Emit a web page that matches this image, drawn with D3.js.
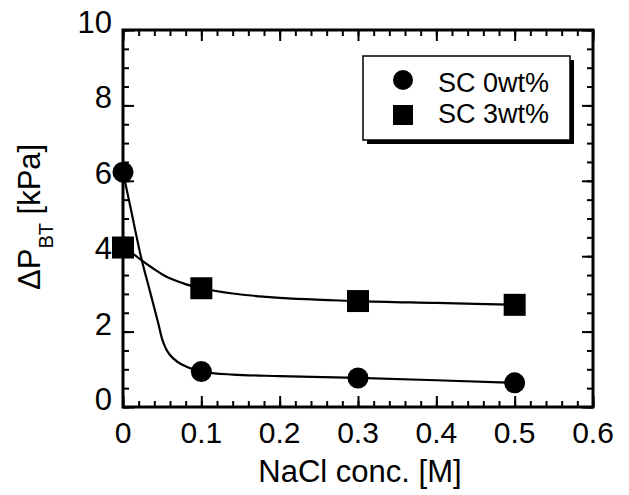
<!DOCTYPE html>
<html>
<head>
<meta charset="utf-8">
<script src="https://cdn.jsdelivr.net/npm/d3@7"></script>
<style>
body { margin: 0; background: #fff; }
text { font-family: "Liberation Sans", Arial, sans-serif; fill: #000; }
</style>
</head>
<body>
<script>
var width = 629;
var height = 495;

// measured points
var conc = [0, 0.1, 0.3, 0.5];
var sc0 = [6.23, 0.94, 0.77, 0.64];
var sc3 = [4.23, 3.15, 2.81, 2.71];

// fitted curves
var fit0x = [0, 0.01, 0.023, 0.034, 0.045, 0.05, 0.055, 0.06, 0.07, 0.081, 0.1, 0.14, 0.2, 0.3, 0.4, 0.5];
var fit0y = [6.23, 5.25, 3.98, 3.10, 2.22, 1.80, 1.54, 1.38, 1.19, 1.07, 0.94, 0.86, 0.82, 0.77, 0.71, 0.64];
var fit3x = [0, 0.015, 0.023, 0.038, 0.055, 0.077, 0.1, 0.14, 0.183, 0.3, 0.4, 0.5];
var fit3y = [4.23, 4.03, 3.90, 3.68, 3.46, 3.28, 3.15, 3.01, 2.92, 2.81, 2.76, 2.71];

var xTicks = [0, 0.1, 0.2, 0.3, 0.4, 0.5, 0.6];
var yTicks = [0, 2, 4, 6, 8, 10];
var xMinorStep = 0.02;
var yMinorStep = 0.5;
var seriesNames = ["SC 0wt%", "SC 3wt%"];

var svg = d3.select("body")
            .append("svg")
            .attr("width", width)
            .attr("height", height);

var x = d3.scaleLinear().domain([0, 0.6]).range([123, 593]);
var y = d3.scaleLinear().domain([0, 10]).range([407, 30]);

var xMinor = d3.range(0, Math.round(0.6 / xMinorStep) + 1).map(function(i){ return i * xMinorStep; });
var yMinor = d3.range(0, Math.round(10 / yMinorStep) + 1).map(function(i){ return i * yMinorStep; });

function tickGroup(axis, tx, ty, vals, size) {
    var g = svg.append("g")
        .attr("transform", "translate(" + tx + "," + ty + ")")
        .call(axis.tickValues(vals).tickSize(-size).tickFormat(""));
    g.select(".domain").remove();
    g.selectAll("line").attr("stroke", "#000").attr("stroke-width", 2);
    return g;
}

// minor + major ticks on all four sides, pointing inward
tickGroup(d3.axisBottom(x), 0, y(0), xMinor, 6);
tickGroup(d3.axisBottom(x), 0, y(0), xTicks, 11);
tickGroup(d3.axisTop(x), 0, y(10), xMinor, 6);
tickGroup(d3.axisTop(x), 0, y(10), xTicks, 11);
tickGroup(d3.axisLeft(y), x(0), 0, yMinor, 6);
tickGroup(d3.axisLeft(y), x(0), 0, yTicks, 11);
tickGroup(d3.axisRight(y), x(0.6), 0, yMinor, 6);
tickGroup(d3.axisRight(y), x(0.6), 0, yTicks, 11);

// frame
svg.append("rect")
   .attr("x", x(0)).attr("y", y(10))
   .attr("width", x(0.6) - x(0)).attr("height", y(0) - y(10))
   .attr("fill", "none").attr("stroke", "#000").attr("stroke-width", 3);

// tick labels
svg.selectAll(".xlab").data(xTicks).enter().append("text")
   .attr("x", function(d){ return x(d); })
   .attr("y", 443)
   .attr("text-anchor", "middle")
   .style("font-size", "30px")
   .text(function(d){ return String(d); });

svg.selectAll(".ylab").data(yTicks).enter().append("text")
   .attr("x", 112)
   .attr("y", function(d){ return y(d) + 3; })
   .attr("text-anchor", "end")
   .style("font-size", "31px")
   .text(function(d){ return String(d); });

// axis titles
svg.append("text").attr("x", 360).attr("y", 482)
   .attr("text-anchor", "middle").style("font-size", "31px")
   .text("NaCl conc. [M]");

var yt = svg.append("text")
   .attr("transform", "translate(40,290) rotate(-90)")
   .style("font-size", "31px");
yt.append("tspan").text("ΔP");
yt.append("tspan").attr("dy", 13).style("font-size", "20px").text("BT");
yt.append("tspan").attr("dy", -13).text(" [kPa]");

// fitted curves
var line = d3.line()
    .x(function(d){ return x(d[0]); })
    .y(function(d){ return y(d[1]); })
    .curve(d3.curveMonotoneX);

svg.append("path").datum(d3.zip(fit0x, fit0y))
   .attr("d", line).attr("fill", "none").attr("stroke", "#000").attr("stroke-width", 2.2);
svg.append("path").datum(d3.zip(fit3x, fit3y))
   .attr("d", line).attr("fill", "none").attr("stroke", "#000").attr("stroke-width", 2.2);

// markers
svg.selectAll(".c0").data(d3.zip(conc, sc0)).enter().append("circle")
   .attr("cx", function(d){ return x(d[0]); })
   .attr("cy", function(d){ return y(d[1]); })
   .attr("r", 10.5).attr("fill", "#000");

var sq = 22;
svg.selectAll(".s3").data(d3.zip(conc, sc3)).enter().append("rect")
   .attr("x", function(d){ return x(d[0]) - sq / 2; })
   .attr("y", function(d){ return y(d[1]) - sq / 2; })
   .attr("width", sq).attr("height", sq).attr("fill", "#000");

// legend
svg.append("rect").attr("x", 367).attr("y", 60).attr("width", 207).attr("height", 84).attr("fill", "#000");
svg.append("rect").attr("x", 363).attr("y", 56).attr("width", 207).attr("height", 84)
   .attr("fill", "#fff").attr("stroke", "#000").attr("stroke-width", 1.5);
svg.append("circle").attr("cx", 403).attr("cy", 80).attr("r", 10).style("fill", "#000");
svg.append("rect").attr("x", 393).attr("y", 105).attr("width", 20).attr("height", 20).style("fill", "#000");
svg.append("text").attr("x", 438).attr("y", 92).text(seriesNames[0]).style("font-size", "27px");
svg.append("text").attr("x", 438).attr("y", 123).text(seriesNames[1]).style("font-size", "27px");
</script>
</body>
</html>
